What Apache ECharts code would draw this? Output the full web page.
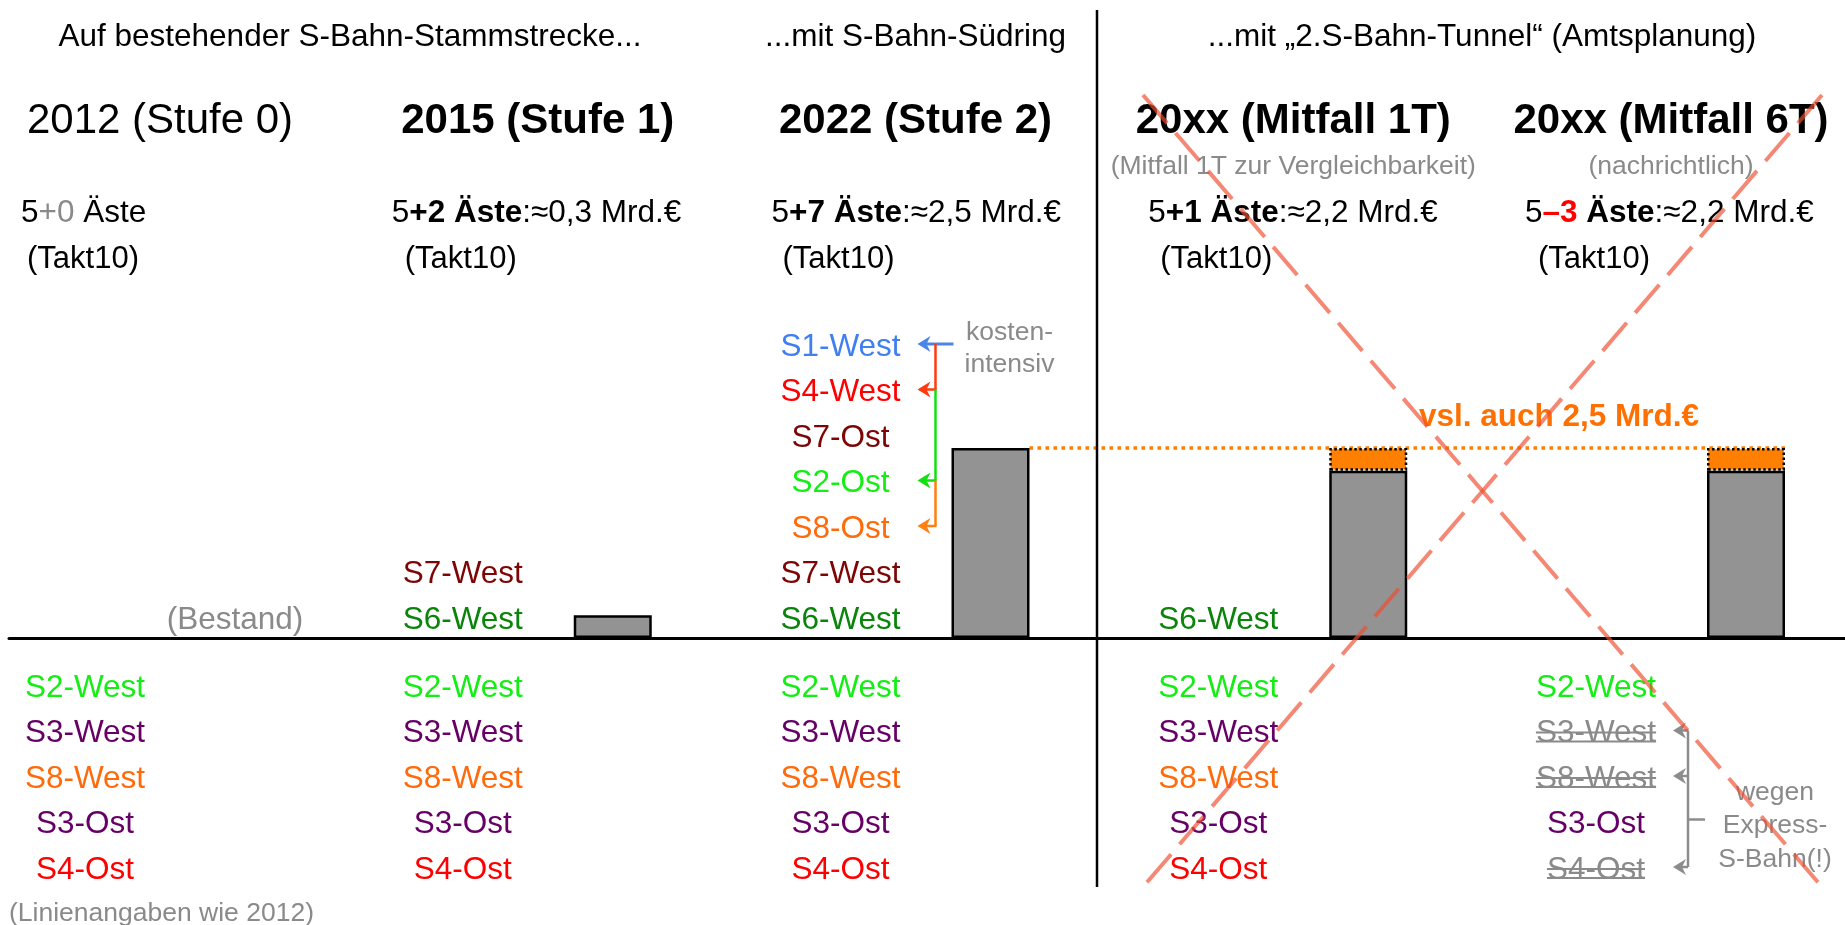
<!DOCTYPE html>
<html><head><meta charset="utf-8">
<script src="https://cdn.jsdelivr.net/npm/echarts@6/dist/echarts.min.js"></script>
<style>html,body{margin:0;padding:0;background:#fff;overflow:hidden}#c{width:1845px;height:925px}</style>
</head><body><div id="c"></div>
<script>
// ---------------- data ----------------
const categories = ['2012 (Stufe 0)', '2015 (Stufe 1)', '2022 (Stufe 2)', '20xx (Mitfall 1T)', '20xx (Mitfall 6T)'];
const costBase  = [0, 0.3, 2.5, 2.2, 2.2];   // Mrd. €
const costExtra = [0, 0, 0, 0.3, 0.3];       // "vsl. auch 2,5 Mrd.€"
const sectionHeaders = ['Auf bestehender S-Bahn-Stammstrecke...', '...mit S-Bahn-Südring', '...mit \u201E2.S-Bahn-Tunnel\u201C (Amtsplanung)'];
const subTitles = ['', '', '', '(Mitfall 1T zur Vergleichbarkeit)', '(nachrichtlich)'];
const branchBase  = ['5', '5', '5', '5', '5'];
const branchDelta = ['+0', '+2', '+7', '+1', '\u20133'];
const costTexts   = ['', ':\u22480,3 Mrd.\u20AC', ':\u22482,5 Mrd.\u20AC', ':\u22482,2 Mrd.\u20AC', ':\u22482,2 Mrd.\u20AC'];
const taktTexts   = ['(Takt10)', '(Takt10)', '(Takt10)', '(Takt10)', '(Takt10)'];
const linesAbove = [
  [],
  ['S6-West', 'S7-West'],
  ['S6-West', 'S7-West', 'S8-Ost', 'S2-Ost', 'S7-Ost', 'S4-West', 'S1-West'],
  ['S6-West'],
  []
];
const linesBelow = [
  ['S2-West', 'S3-West', 'S8-West', 'S3-Ost', 'S4-Ost'],
  ['S2-West', 'S3-West', 'S8-West', 'S3-Ost', 'S4-Ost'],
  ['S2-West', 'S3-West', 'S8-West', 'S3-Ost', 'S4-Ost'],
  ['S2-West', 'S3-West', 'S8-West', 'S3-Ost', 'S4-Ost'],
  ['S2-West', 'S3-West', 'S8-West', 'S3-Ost', 'S4-Ost']
];
const droppedLines = ['S3-West', 'S8-West', 'S4-Ost'];          // in Mitfall 6T
const costlyLines = ['S1-West', 'S4-West', 'S2-Ost', 'S8-Ost'];  // in Stufe 2
const notes = {
  bestand: '(Bestand)',
  costly: 'kosten-\nintensiv',
  extra: 'vsl. auch 2,5 Mrd.\u20AC',
  express: 'wegen\nExpress-\nS-Bahn(!)',
  footer: '(Linienangaben wie 2012)'
};

// ---------------- styles ----------------
const FONT = '"Liberation Sans", Arial, Helvetica, sans-serif';
const GRAY = '#8a8a8a';
const TDY = 3; // vertical text nudge
const lineColors = { S1: '#3f7ff2', S2: '#14ee14', S3: '#660066', S4: '#ff0000', S6: '#0a840a', S7: '#7d0505', S8: '#ff6a0a' };
const arrowColors = { S1: '#4a86e8', S4: '#ff3a10', S2: '#10e010', S8: '#ff7f10' };
const colorOf = n => lineColors[n.split('-')[0]];

const chart = echarts.init(document.getElementById('c'), null, { renderer: 'canvas' });
const baseData = costBase.map(v => v === 0 ? null : v);
const extraData = costExtra.map(v => v === 0 ? null : v);

chart.setOption({
  animation: false,
  backgroundColor: '#fff',
  grid: [
    { left: 235, right: 99, top: 30, bottom: 287 },
    { left: 9, right: 0, top: 30, bottom: 287 }
  ],
  xAxis: [
    { type: 'category', data: categories, boundaryGap: false, gridIndex: 0,
      axisLine: { show: false }, axisTick: { show: false }, axisLabel: { show: false }, splitLine: { show: false } },
    { type: 'value', gridIndex: 1, min: 0, max: 1,
      axisLine: { show: true, onZero: false, lineStyle: { color: '#000', width: 3 } },
      axisTick: { show: false }, axisLabel: { show: false }, splitLine: { show: false } }
  ],
  yAxis: [
    { type: 'value', min: 0, max: 8, gridIndex: 0, show: false },
    { type: 'value', min: 0, max: 1, gridIndex: 1, show: false }
  ],
  series: [
    { type: 'bar', name: 'Kosten', stack: 'k', data: baseData, barWidth: 78, z: 3,
      itemStyle: { color: '#939393', borderColor: '#000', borderWidth: 2.5 } },
    { type: 'bar', name: 'Mehrkosten', stack: 'k', data: extraData, barWidth: 78, z: 3,
      itemStyle: { color: '#ff7f00', borderColor: '#000', borderWidth: 2.5, borderType: [2.5, 2.5] } }
  ]
});

// ---------------- annotations positioned from the axes ----------------
const px = i => chart.convertToPixel({ xAxisIndex: 0 }, i);
const py = v => chart.convertToPixel({ yAxisIndex: 0 }, v);
const baseY = py(0);
const rowAbove = k => baseY - 21 - 45.5 * k;
const rowBelow = k => baseY + 47 + 45.5 * k;
const mctx = document.createElement('canvas').getContext('2d');
const measure = (t, f) => { mctx.font = f; return mctx.measureText(t).width; };

const els = [];
function text(x, y, t, size, fill, o) {
  o = o || {};
  const style = {
    text: t, fill: fill,
    font: (o.bold ? 'bold ' : '') + size + 'px ' + FONT,
    textAlign: o.align || 'center', textVerticalAlign: 'middle'
  };
  if (o.lineHeight) style.lineHeight = o.lineHeight;
  if (o.rich) style.rich = o.rich;
  els.push({ type: 'text', x: x, y: y + TDY, z: 10, silent: true, style: style });
}
function line(x1, y1, x2, y2, stroke, w, o) {
  o = o || {};
  els.push({ type: 'line', z: o.z || 10, silent: true, shape: { x1, y1, x2, y2 },
    style: { stroke, lineWidth: w, lineDash: o.dash || null, lineCap: o.cap || 'butt' } });
}
function arrowLeft(x, y, color) {
  els.push({ type: 'polygon', z: 11, silent: true,
    shape: { points: [[x, y], [x + 13, y - 8], [x + 9, y], [x + 13, y + 8]] }, style: { fill: color } });
}

// section headers
text(350, 34, sectionHeaders[0], 31.5, '#000');
text(px(2) - 75, 34, sectionHeaders[1], 31.5, '#000');
text(1482, 34, sectionHeaders[2], 31.5, '#000');

// column titles, sub titles, branch counts, takt
const rowOffsets = [-214, -221, -219, -220, -221];
categories.forEach((c, i) => {
  const x = px(i);
  text(x - 75, 118, c, 42, '#000', { bold: i > 0 });
  if (subTitles[i]) text(x - 75, 164, subTitles[i], 26.5, GRAY);
  const sz = 31.5;
  const rich = {
    r: { fontSize: sz, fontFamily: FONT, fill: '#000' },
    b: { fontSize: sz, fontFamily: FONT, fontWeight: 'bold', fill: '#000' },
    g: { fontSize: sz, fontFamily: FONT, fill: GRAY },
    red: { fontSize: sz, fontFamily: FONT, fontWeight: 'bold', fill: '#ff0000' }
  };
  let t;
  if (i === 0) t = '{r|' + branchBase[i] + '}{g|' + branchDelta[i] + '}{r| \u00C4ste' + costTexts[i] + '}';
  else if (branchDelta[i].charAt(0) === '\u2013') t = '{r|' + branchBase[i] + '}{red|' + branchDelta[i] + '}{b| \u00C4ste}{r|' + costTexts[i] + '}';
  else t = '{r|' + branchBase[i] + '}{b|' + branchDelta[i] + ' \u00C4ste}{r|' + costTexts[i] + '}';
  text(x + rowOffsets[i], 210, t, sz, '#000', { align: 'left', rich: rich });
  text(x - 208, 256, taktTexts[i], 31, '#000', { align: 'left' });

  linesAbove[i].forEach((n, k) => text(x - 150, rowAbove(k), n, 31.5, colorOf(n)));
  linesBelow[i].forEach((n, k) => {
    const dropped = i === 4 && droppedLines.indexOf(n) >= 0;
    const y = rowBelow(k);
    text(x - 150, y, n, 31.5, dropped ? GRAY : colorOf(n));
    if (dropped) {
      const w = measure(n, '31.5px ' + FONT);
      line(x - 150 - w / 2, y + 2, x - 150 + w / 2, y + 2, GRAY, 2);
      line(x - 150 - w / 2, y + 11, x - 150 + w / 2, y + 11, GRAY, 2);
    }
  });
});

// (Bestand) and footer
text(px(0), rowAbove(0), notes.bestand, 31.5, GRAY);
text(9, 911, notes.footer, 26.5, GRAY, { align: 'left' });

// Stufe 2 "kostenintensiv" bracket
{
  const x = px(2), bx = x - 55, tip = x - 73;
  const ys = costlyLines.map(n => rowAbove(linesAbove[2].indexOf(n)));
  line(x - 37, ys[0], tip + 8, ys[0], arrowColors.S1, 3);
  costlyLines.forEach((n, k) => {
    const col = arrowColors[n.split('-')[0]];
    if (k > 0) {
      line(bx, ys[k - 1], bx, ys[k], col, 2.5);
      line(bx + 1, ys[k], tip + 8, ys[k], col, 2.5);
    }
    arrowLeft(tip, ys[k], col);
  });
  text(x + 19, 346, notes.costly, 26.5, GRAY, { lineHeight: 32 });
}

// Mitfall 6T "wegen Express-S-Bahn" bracket
{
  const x = px(4), bx = x - 58, tip = x - 73;
  const ys = droppedLines.map(n => rowBelow(linesBelow[4].indexOf(n)));
  const mid = rowBelow(linesBelow[4].indexOf('S3-Ost'));
  line(bx, ys[0], bx, ys[ys.length - 1], '#8c8c8c', 2.5);
  ys.forEach(y => { line(bx, y, tip + 8, y, '#8c8c8c', 2.5); arrowLeft(tip, y, '#8c8c8c'); });
  line(bx, mid - 2, x - 41, mid - 2, '#8c8c8c', 2.5);
  text(x + 29, 823, notes.express, 26.5, GRAY, { lineHeight: 33.5 });
}

// dotted 2,5 Mrd level line
line(px(2) + 39, py(costBase[2]), px(4) + 39, py(costBase[2]), '#ff7f00', 3.5, { dash: [3.5, 4.5], z: 1 });
text(1559, 414, notes.extra, 31.5, '#ff7000', { bold: true });

// vertical divider
line(1097, 10, 1097, 887, '#000', 2.5);

// crossing-out X over the tunnel variant
line(1143, 95, 1822, 887, 'rgba(238,78,48,0.67)', 4, { dash: [37, 13], z: 100 });
line(1822, 95, 1143, 887, 'rgba(238,78,48,0.67)', 4, { dash: [37, 13], z: 100 });

chart.setOption({ graphic: { elements: els } });
</script>
</body></html>
